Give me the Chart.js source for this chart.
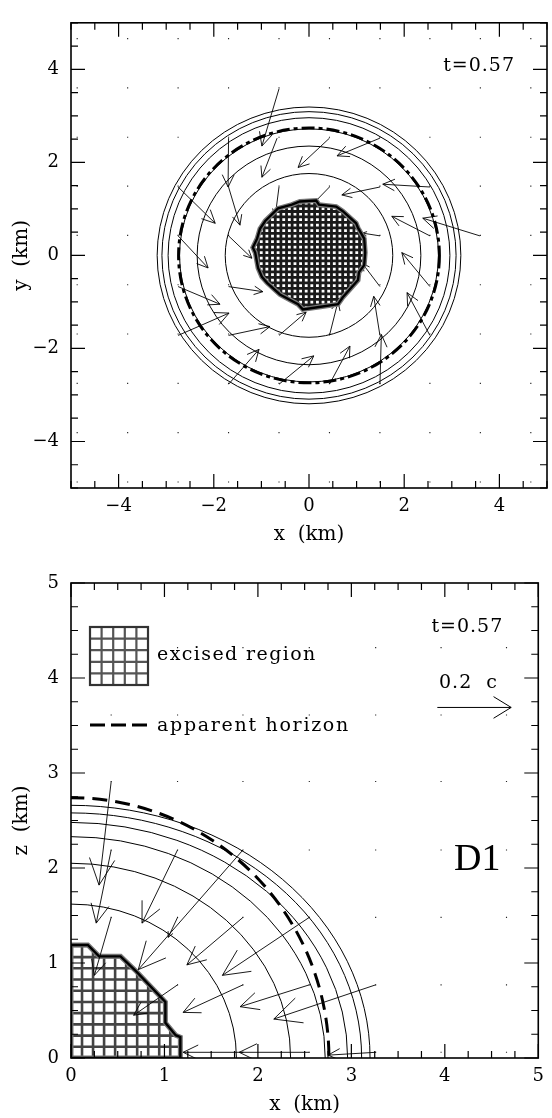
<!DOCTYPE html>
<html lang="en">
<head>
<meta charset="UTF-8">
<title>Collapse snapshot t=0.57</title>
<script src="https://cdn.jsdelivr.net/npm/chart.js"></script>
<style>
  body { margin: 0; background: #fff; }
  canvas { display: block; }
</style>
</head>
<body>
<canvas id="xyChart" width="552" height="560"></canvas>
<canvas id="xzChart" width="552" height="558"></canvas>
<script>
// ---- x-y plane (equatorial slice) ----
const xyGrid = [-4.87, -3.81, -2.75, -1.69, -0.63, 0.43, 1.49, 2.54, 3.60, 4.66];
const xyTailX = [-0.63, -0.67, -1.69, -1.69, -2.75, 0.43, -0.63, 0.43, -2.75, -1.69, 1.49, 2.54, 1.49, 3.59, 2.54, 1.49, 2.54, 1.49, 2.54, 1.49, 1.49, 0.43, 0.43, -0.63, -0.63, -1.69, -1.69, -2.75, -2.75, -1.69];
const xyTailY = [3.58, 2.52, 2.52, 1.47, 1.47, 2.52, 1.47, 1.47, 0.42, 0.42, 2.52, 1.47, 1.47, 0.42, 0.42, 0.42, -0.67, -0.67, -1.72, -1.72, -2.77, -2.77, -1.72, -1.72, -2.77, -2.77, -1.72, -1.72, -0.67, -0.67];
const xyHeadX = [-0.99, -0.99, -1.70, -1.45, -1.97, -0.23, -0.71, 0.03, -2.12, -1.20, 0.59, 1.55, 0.69, 2.39, 1.74, 1.12, 1.95, 1.12, 2.06, 1.36, 1.52, 0.86, 0.61, -0.06, 0.10, -1.05, -0.82, -1.68, -1.87, -0.97];
const xyHeadY = [2.35, 1.68, 1.47, 0.65, 0.69, 1.89, 0.84, 1.05, -0.27, -0.06, 2.14, 1.53, 1.30, 0.80, 0.84, 0.48, 0.06, -0.17, -0.80, -0.88, -1.70, -1.95, -0.99, -1.22, -2.16, -2.02, -1.53, -1.24, -1.05, -0.78];
const xyContours = [1.76, 2.35, 2.72, 2.96, 3.09, 3.19];
const xyHorizon = 2.74;
const xyExcisedX = [-0.19, 0.15, 0.21, 0.57, 0.71, 0.99, 1.03, 1.16, 1.18, 1.16, 1.05, 1.03, 0.71, 0.61, 0.21, -0.13, -0.23, -0.61, -0.88, -0.99, -1.07, -1.13, -1.18, -1.09, -1.03, -0.92, -0.65, -0.36];
const xyExcisedY = [1.16, 1.18, 1.09, 1.05, 0.95, 0.69, 0.59, 0.36, 0.06, -0.21, -0.36, -0.53, -0.90, -1.05, -1.11, -1.16, -1.05, -0.84, -0.59, -0.46, -0.27, 0.06, 0.17, 0.36, 0.57, 0.74, 1.01, 1.09];

// ---- x-z plane (meridional quadrant) ----
const xzGridX = [0.43, 1.14, 1.84, 2.55, 3.26, 3.96, 4.66];
const xzGridZ = [0.06, 0.77, 1.48, 2.19, 2.91, 3.61, 4.32];
const xzTailX = [0.43, 0.43, 0.43, 1.14, 1.14, 1.84, 1.84, 2.55, 1.14, 1.84, 2.55, 3.26, 1.84, 2.55, 3.26];
const xzTailZ = [2.91, 2.19, 1.48, 2.19, 1.48, 2.19, 1.48, 1.48, 0.77, 0.77, 0.77, 0.77, 0.06, 0.06, 0.06];
const xzHeadX = [0.30, 0.27, 0.25, 0.76, 1.04, 0.72, 1.24, 1.62, 0.67, 1.20, 1.81, 2.17, 1.20, 1.80, 2.75];
const xzHeadZ = [1.82, 1.42, 0.87, 1.42, 1.27, 0.93, 0.98, 0.87, 0.45, 0.48, 0.54, 0.41, 0.06, 0.06, 0.03];
const xzContourEq = [1.77, 2.35, 2.72, 2.96, 3.11, 3.20];
const xzContourPol = [1.62, 2.05, 2.33, 2.48, 2.58, 2.66];
const xzHorizon = [2.76, 2.74];
const xzExcisedX = [0, 0.18, 0.30, 0.53, 0.70, 1.01, 1.01, 1.12, 1.17, 1.17, 0];
const xzExcisedZ = [1.19, 1.19, 1.07, 1.07, 0.91, 0.59, 0.37, 0.24, 0.22, 0, 0];
const cellSize = 0.118;          // excision grid spacing (km)
const refSpeed = 0.2;            // reference arrow, in units of c
const refLength = 0.79;          // km per 0.2 c
const timeLabel = 't=0.57';

const SERIF = "'DejaVu Serif', 'Liberation Serif', serif";
const minus = v => String(v).replace('-', '\u2212');

function gridPoints(xs, ys) {
  const pts = [];
  xs.forEach(x => ys.forEach(y => pts.push({ x, y })));
  return pts;
}

function range(lo, hi, step) {
  const out = [];
  for (let v = lo; v <= hi + 1e-9; v += step) out.push(+v.toFixed(3));
  return out;
}

// arrow with a head that grows with the shaft, capped at maxHead px
function arrow(ctx, x0, y0, x1, y1, maxHead, ang) {
  const t = Math.atan2(y1 - y0, x1 - x0);
  const head = Math.min(maxHead, 0.28 * Math.hypot(x1 - x0, y1 - y0));
  ctx.beginPath();
  ctx.moveTo(x0, y0);
  ctx.lineTo(x1, y1);
  ctx.moveTo(x1 - head * Math.cos(t - ang), y1 - head * Math.sin(t - ang));
  ctx.lineTo(x1, y1);
  ctx.lineTo(x1 - head * Math.cos(t + ang), y1 - head * Math.sin(t + ang));
  ctx.stroke();
}

function drawExcised(ctx, px, py, xs, ys, lw, color) {
  const outline = new Path2D();
  xs.forEach((x, i) => i ? outline.lineTo(px(x), py(ys[i])) : outline.moveTo(px(x), py(ys[i])));
  outline.closePath();
  ctx.save();
  ctx.fillStyle = '#fff';
  ctx.fill(outline);
  ctx.save();
  ctx.clip(outline);
  ctx.strokeStyle = color;
  ctx.lineWidth = lw;
  const kx0 = Math.floor(Math.min(...xs) / cellSize), kx1 = Math.ceil(Math.max(...xs) / cellSize);
  const ky0 = Math.floor(Math.min(...ys) / cellSize), ky1 = Math.ceil(Math.max(...ys) / cellSize);
  ctx.beginPath();
  for (let k = kx0; k <= kx1; k++) { ctx.moveTo(px(k * cellSize), py(ky0 * cellSize)); ctx.lineTo(px(k * cellSize), py(ky1 * cellSize)); }
  for (let k = ky0; k <= ky1; k++) { ctx.moveTo(px(kx0 * cellSize), py(k * cellSize)); ctx.lineTo(px(kx1 * cellSize), py(k * cellSize)); }
  ctx.stroke();
  ctx.restore();
  ctx.strokeStyle = '#777';
  ctx.lineWidth = 5;
  ctx.stroke(outline);
  ctx.strokeStyle = '#000';
  ctx.lineWidth = 2.4;
  ctx.stroke(outline);
  ctx.restore();
}

function spacedText(ctx, text, x, y, font, spacing, align) {
  ctx.save();
  ctx.font = font;
  ctx.letterSpacing = spacing + 'px';
  ctx.textAlign = align || 'left';
  ctx.textBaseline = 'alphabetic';
  ctx.fillStyle = '#000';
  ctx.fillText(text, x, y);
  ctx.restore();
}

// contours, horizon, velocity arrows, excised region, frame with inward ticks
const fieldPlugin = {
  id: 'field',
  afterDatasetsDraw(chart, args, o) {
    const { ctx, chartArea: a } = chart;
    const sx = chart.scales.x, sy = chart.scales.y;
    const px = v => sx.getPixelForValue(v), py = v => sy.getPixelForValue(v);
    const cx = px(0), cy = py(0);
    ctx.save();
    ctx.beginPath();
    ctx.rect(a.left, a.top, a.right - a.left, a.bottom - a.top);
    ctx.clip();

    ctx.strokeStyle = '#000';
    ctx.lineWidth = 1;
    o.contourEq.forEach((r, i) => {
      ctx.beginPath();
      ctx.ellipse(cx, cy, px(r) - cx, cy - py(o.contourPol[i]), 0, 0, Math.PI * 2);
      ctx.stroke();
    });

    ctx.lineWidth = 3;
    ctx.setLineDash(o.horizonDash);
    ctx.beginPath();
    ctx.ellipse(cx, cy, px(o.horizon[0]) - cx, cy - py(o.horizon[1]), 0, 0, Math.PI * 2);
    ctx.stroke();
    ctx.setLineDash([]);

    const drawArrows = () => {
      ctx.strokeStyle = '#000';
      ctx.lineWidth = 0.9;
      o.tailX.forEach((x, i) => arrow(ctx, px(x), py(o.tailY[i]), px(o.headX[i]), py(o.headY[i]), o.head, 0.45));
    };
    if (o.arrowsOnTop) {
      drawExcised(ctx, px, py, o.exX, o.exY, o.cellLine, '#444');
      drawArrows();
    } else {
      drawArrows();
      drawExcised(ctx, px, py, o.exX, o.exY, o.cellLine, '#1a1a1a');
    }
    ctx.restore();

    // frame and inward ticks on all four sides
    ctx.save();
    ctx.strokeStyle = '#000';
    ctx.lineWidth = 1.6;
    ctx.strokeRect(a.left, a.top, a.right - a.left, a.bottom - a.top);
    ctx.lineWidth = 1.2;
    ctx.beginPath();
    const mark = (v, len) => {
      const X = px(v), Y = py(v);
      ctx.moveTo(X, a.bottom); ctx.lineTo(X, a.bottom - len);
      ctx.moveTo(X, a.top); ctx.lineTo(X, a.top + len);
      ctx.moveTo(a.left, Y); ctx.lineTo(a.left + len, Y);
      ctx.moveTo(a.right, Y); ctx.lineTo(a.right - len, Y);
    };
    o.minor.forEach(v => mark(v, 7));
    o.major.forEach(v => mark(v, 14));
    ctx.stroke();
    ctx.restore();

    if (o.extra) o.extra(ctx, a, px, py);
  }
};

function axis(title, ticks, fit, padTitle) {
  return {
    type: 'linear',
    afterBuildTicks: s => { s.ticks = ticks.map(v => ({ value: v })); },
    afterFit: fit,
    grid: { display: false, drawTicks: false },
    border: { display: false },
    ticks: {
      color: '#000',
      font: { family: SERIF, size: 18 },
      callback: v => minus(v)
    },
    title: { display: true, text: title, color: '#000', font: { family: SERIF, size: 20 }, padding: padTitle }
  };
}

function makeChart(id, cfg) {
  const x = axis(cfg.xTitle, cfg.major, s => { s.height = cfg.xHeight; }, cfg.xTitlePad);
  const y = axis(cfg.yTitle, cfg.major, s => { s.width = 71; }, cfg.yTitlePad);
  x.min = cfg.lo; x.max = cfg.hi; x.ticks.padding = 8;
  y.min = cfg.lo; y.max = cfg.hi; y.ticks.padding = 12;
  return new Chart(document.getElementById(id), {
    type: 'scatter',
    data: {
      datasets: [{
        data: cfg.dots,
        pointStyle: 'rect',
        pointRadius: 0.8,
        backgroundColor: '#222',
        borderWidth: 0
      }]
    },
    options: {
      responsive: false,
      animation: false,
      devicePixelRatio: 1,
      layout: { padding: { top: cfg.top, right: 5, left: 0, bottom: 0 } },
      scales: { x, y },
      plugins: { legend: { display: false }, tooltip: { enabled: false }, field: cfg.field }
    },
    plugins: [fieldPlugin]
  });
}

// top panel: x-y plane
makeChart('xyChart', {
  lo: -5, hi: 5, top: 13, xHeight: 72,
  major: [-4, -2, 0, 2, 4],
  xTitle: 'x  (km)', yTitle: 'y  (km)',
  xTitlePad: { top: 0, bottom: 13 }, yTitlePad: { top: 10, bottom: 0 },
  dots: gridPoints(xyGrid, xyGrid),
  field: {
    contourEq: xyContours, contourPol: xyContours,
    horizon: [xyHorizon, xyHorizon], horizonDash: [13, 4, 4, 4],
    tailX: xyTailX, tailY: xyTailY, headX: xyHeadX, headY: xyHeadY, head: 15,
    exX: xyExcisedX, exY: xyExcisedY, cellLine: 2.8, arrowsOnTop: false,
    major: [-4, -2, 0, 2, 4],
    minor: range(-5, 5, 0.5),
    extra: (ctx, a) => spacedText(ctx, timeLabel, a.right - 32, a.top + 48, '19px ' + SERIF, 1, 'right')
  }
});

// bottom panel: x-z quadrant with legend
makeChart('xzChart', {
  lo: 0, hi: 5, top: 23, xHeight: 60,
  major: [0, 1, 2, 3, 4, 5],
  xTitle: 'x  (km)', yTitle: 'z  (km)',
  xTitlePad: { top: 0, bottom: 1 }, yTitlePad: { top: 10, bottom: 0 },
  dots: gridPoints(xzGridX, xzGridZ),
  field: {
    contourEq: xzContourEq, contourPol: xzContourPol,
    horizon: xzHorizon, horizonDash: [15, 8],
    tailX: xzTailX, tailY: xzTailZ, headX: xzHeadX, headY: xzHeadZ, head: 30,
    exX: xzExcisedX, exY: xzExcisedZ, cellLine: 2.6, arrowsOnTop: true,
    major: [0, 1, 2, 3, 4, 5],
    minor: range(0, 5, 0.25),
    extra: (ctx, a, px, py) => {
      spacedText(ctx, timeLabel, a.right - 35, a.top + 49, '19px ' + SERIF, 1, 'right');
      // hatched legend swatch
      const bx = a.left + 19, by = a.top + 44, bs = 58, n = 5;
      ctx.save();
      ctx.fillStyle = '#fff';
      ctx.fillRect(bx, by, bs, bs);
      ctx.strokeStyle = '#555';
      ctx.lineWidth = 2.2;
      ctx.beginPath();
      for (let k = 1; k < n; k++) {
        ctx.moveTo(bx + k * bs / n, by); ctx.lineTo(bx + k * bs / n, by + bs);
        ctx.moveTo(bx, by + k * bs / n); ctx.lineTo(bx + bs, by + k * bs / n);
      }
      ctx.stroke();
      ctx.strokeStyle = '#333';
      ctx.lineWidth = 2.2;
      ctx.strokeRect(bx, by, bs, bs);
      ctx.restore();
      spacedText(ctx, 'excised region', bx + 67, by + 33, '19px ' + SERIF, 1.4);
      // dashed legend line
      const ly = a.top + 142;
      ctx.save();
      ctx.strokeStyle = '#000';
      ctx.lineWidth = 3;
      ctx.setLineDash([15, 6]);
      ctx.beginPath();
      ctx.moveTo(bx, ly); ctx.lineTo(bx + 58, ly);
      ctx.stroke();
      ctx.restore();
      spacedText(ctx, 'apparent horizon', bx + 67, ly + 6, '19px ' + SERIF, 1.7);
      // velocity scale
      spacedText(ctx, refSpeed + '  c', a.left + 368, a.top + 105, '19px ' + SERIF, 1);
      ctx.save();
      ctx.strokeStyle = '#000';
      ctx.lineWidth = 1;
      const rx = 3.92, rz = 3.69;
      arrow(ctx, px(rx), py(rz), px(rx + refLength), py(rz), 22, 0.55);
      ctx.restore();
      spacedText(ctx, 'D1', a.left + 383, a.top + 287, '38px ' + SERIF.replace("'DejaVu Serif', ", ''), 0);
    }
  }
});
</script>
</body>
</html>
